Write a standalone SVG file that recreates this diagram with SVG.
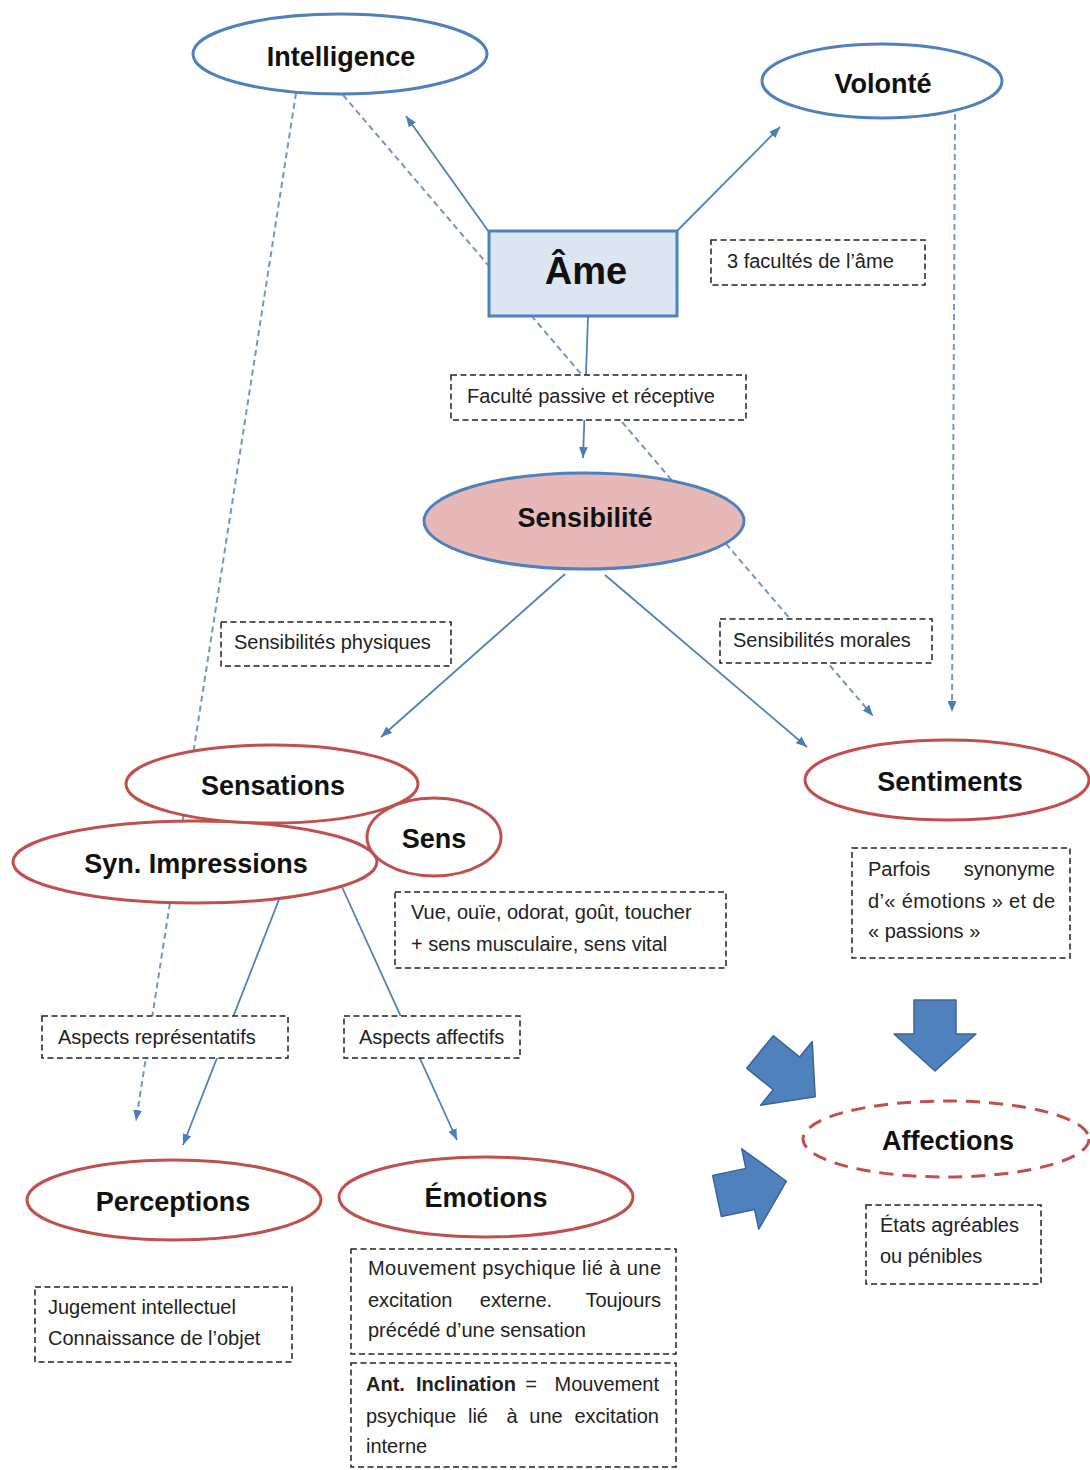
<svg xmlns="http://www.w3.org/2000/svg" xmlns:xlink="http://www.w3.org/1999/xlink" width="1090" height="1470" viewBox="0 0 1090 1470">
<style>
.title{font-family:"Liberation Sans",Arial,sans-serif;font-weight:bold;font-size:27px;fill:#111;text-anchor:middle}
.lbl{font-family:"Liberation Sans",Arial,sans-serif;font-size:20px;fill:#222}
.b{font-weight:bold}
.blue{fill:#ffffff;stroke:#4f81bd;stroke-width:3}
.red{fill:#ffffff;stroke:#c0504d;stroke-width:3}
.box{fill:#ffffff;stroke:#222;stroke-width:1.5;stroke-dasharray:6,3.5}
.sol{stroke:#4f81bd;stroke-width:1.8;fill:none;marker-end:url(#ah)}
.dsh{stroke:#7396c8;stroke-width:2;fill:none;stroke-dasharray:6,4;marker-end:url(#ah)}
</style>
<defs>
<marker id="ah" viewBox="0 0 10 8" refX="10" refY="4" markerWidth="11" markerHeight="9" markerUnits="userSpaceOnUse" orient="auto">
<path d="M0,0 L10,4 L0,8 z" fill="#4a7ebb"/>
</marker>
<polygon id="blk" points="0,-21 34,-21 34,-41 71,0 34,41 34,21 0,21" fill="#4f81bd" stroke="#3a6496" stroke-width="1.5" stroke-linejoin="round"/>
</defs>
<rect width="1090" height="1470" fill="#ffffff"/>

<g id="connectors">
<line class="dsh" x1="343" y1="95" x2="873" y2="716"/>
<line class="dsh" x1="296" y1="93" x2="136" y2="1121"/>
<line class="dsh" x1="955" y1="114" x2="952" y2="712"/>
<line class="sol" x1="489" y1="232" x2="406" y2="116"/>
<line class="sol" x1="677" y1="231" x2="780" y2="127"/>
<line class="sol" x1="588" y1="317" x2="583" y2="458"/>
<line class="sol" x1="565" y1="574" x2="381" y2="737"/>
<line class="sol" x1="605" y1="575" x2="807" y2="747"/>
<line class="sol" x1="280" y1="897" x2="183" y2="1145"/>
<line class="sol" x1="342" y1="887" x2="457" y2="1140"/>
<use xlink:href="#blk" transform="translate(935,1000) rotate(90)"/>
<use xlink:href="#blk" transform="translate(760,1052) rotate(39)"/>
<use xlink:href="#blk" transform="translate(717,1196) rotate(-12)"/>
</g>

<g id="node-intelligence">
<ellipse class="blue" cx="340" cy="54" rx="147" ry="40"/>
<text class="title" x="341" y="66">Intelligence</text>
</g>
<g id="node-volonte">
<ellipse class="blue" cx="882" cy="81" rx="120" ry="37"/>
<text class="title" x="883" y="93">Volonté</text>
</g>
<g id="node-ame">
<rect x="489" y="231" width="188" height="85" fill="#dce6f2" stroke="#4f81bd" stroke-width="3"/>
<text class="title" x="586" y="284" style="font-size:38px">Âme</text>
</g>
<g id="node-sensibilite">
<ellipse cx="584" cy="521" rx="160" ry="48" fill="#e6b9b8" stroke="#4f81bd" stroke-width="3"/>
<text class="title" x="585" y="527">Sensibilité</text>
</g>
<g id="node-syn-impressions">
<ellipse class="red" cx="195" cy="862" rx="182" ry="41"/>
<text class="title" x="196" y="873">Syn. Impressions</text>
</g>
<g id="node-sensations">
<ellipse class="red" cx="272" cy="784" rx="146" ry="39"/>
<text class="title" x="273" y="795">Sensations</text>
</g>
<g id="node-sens">
<ellipse class="red" cx="434" cy="837" rx="67" ry="39"/>
<text class="title" x="434" y="848">Sens</text>
</g>
<g id="node-sentiments">
<ellipse class="red" cx="947" cy="780" rx="142" ry="40"/>
<text class="title" x="950" y="791">Sentiments</text>
</g>
<g id="node-perceptions">
<ellipse class="red" cx="174" cy="1200" rx="147" ry="40"/>
<text class="title" x="173" y="1211">Perceptions</text>
</g>
<g id="node-emotions">
<ellipse class="red" cx="486" cy="1197" rx="147" ry="40"/>
<text class="title" x="486" y="1207">Émotions</text>
</g>
<g id="node-affections">
<ellipse cx="946" cy="1139" rx="143" ry="38" fill="#ffffff" stroke="#c0504d" stroke-width="3" stroke-dasharray="14,9"/>
<text class="title" x="948" y="1150">Affections</text>
</g>

<g id="label-facultes">
<rect class="box" x="711" y="240" width="214" height="45"/>
<text class="lbl" x="727" y="268">3 facultés de l’âme</text>
</g>
<g id="label-passive">
<rect class="box" x="451" y="375" width="295" height="45"/>
<text class="lbl" x="467" y="403">Faculté passive et réceptive</text>
</g>
<g id="label-physiques">
<rect class="box" x="221" y="622" width="230" height="44"/>
<text class="lbl" x="234" y="649">Sensibilités physiques</text>
</g>
<g id="label-morales">
<rect class="box" x="720" y="619" width="212" height="44"/>
<text class="lbl" x="733" y="647">Sensibilités morales</text>
</g>
<g id="label-sens">
<rect class="box" x="395" y="892" width="331" height="76"/>
<text class="lbl" x="411" y="919">Vue, ouïe, odorat, goût, toucher</text>
<text class="lbl" x="411" y="951">+ sens musculaire, sens vital</text>
</g>
<g id="label-synonyme">
<rect class="box" x="852" y="848" width="218" height="110"/>
<text class="lbl" x="868" y="876">Parfois</text>
<text class="lbl" x="1055" y="876" text-anchor="end">synonyme</text>
<text class="lbl" x="868" y="908" textLength="187" lengthAdjust="spacing">d’« émotions » et de</text>
<text class="lbl" x="868" y="938">« passions »</text>
</g>
<g id="label-representatifs">
<rect class="box" x="42" y="1016" width="246" height="42"/>
<text class="lbl" x="58" y="1044">Aspects représentatifs</text>
</g>
<g id="label-affectifs">
<rect class="box" x="344" y="1016" width="176" height="42"/>
<text class="lbl" x="359" y="1044">Aspects affectifs</text>
</g>
<g id="label-agreables">
<rect class="box" x="866" y="1205" width="175" height="79"/>
<text class="lbl" x="880" y="1232">États agréables</text>
<text class="lbl" x="880" y="1263">ou pénibles</text>
</g>
<g id="label-jugement">
<rect class="box" x="35" y="1287" width="257" height="75"/>
<text class="lbl" x="48" y="1314">Jugement intellectuel</text>
<text class="lbl" x="48" y="1345">Connaissance de l’objet</text>
</g>
<g id="label-mouvement">
<rect class="box" x="351" y="1249" width="325" height="105"/>
<text class="lbl" x="368" y="1275" textLength="293" lengthAdjust="spacing">Mouvement psychique lié à une</text>
<text class="lbl" x="368" y="1307">excitation</text>
<text class="lbl" x="516" y="1307" text-anchor="middle">externe.</text>
<text class="lbl" x="661" y="1307" text-anchor="end">Toujours</text>
<text class="lbl" x="368" y="1337">précédé d’une sensation</text>
</g>
<g id="label-inclination">
<rect class="box" x="351" y="1363" width="325" height="104"/>
<text class="lbl b" x="366" y="1391">Ant.</text>
<text class="lbl b" x="416" y="1391">Inclination</text>
<text class="lbl" x="531" y="1391" text-anchor="middle">=</text>
<text class="lbl" x="659" y="1391" text-anchor="end">Mouvement</text>
<text class="lbl" x="366" y="1423">psychique</text>
<text class="lbl" x="478" y="1423" text-anchor="middle">lié</text>
<text class="lbl" x="512" y="1423" text-anchor="middle">à</text>
<text class="lbl" x="546" y="1423" text-anchor="middle">une</text>
<text class="lbl" x="659" y="1423" text-anchor="end">excitation</text>
<text class="lbl" x="366" y="1453">interne</text>
</g>
</svg>
